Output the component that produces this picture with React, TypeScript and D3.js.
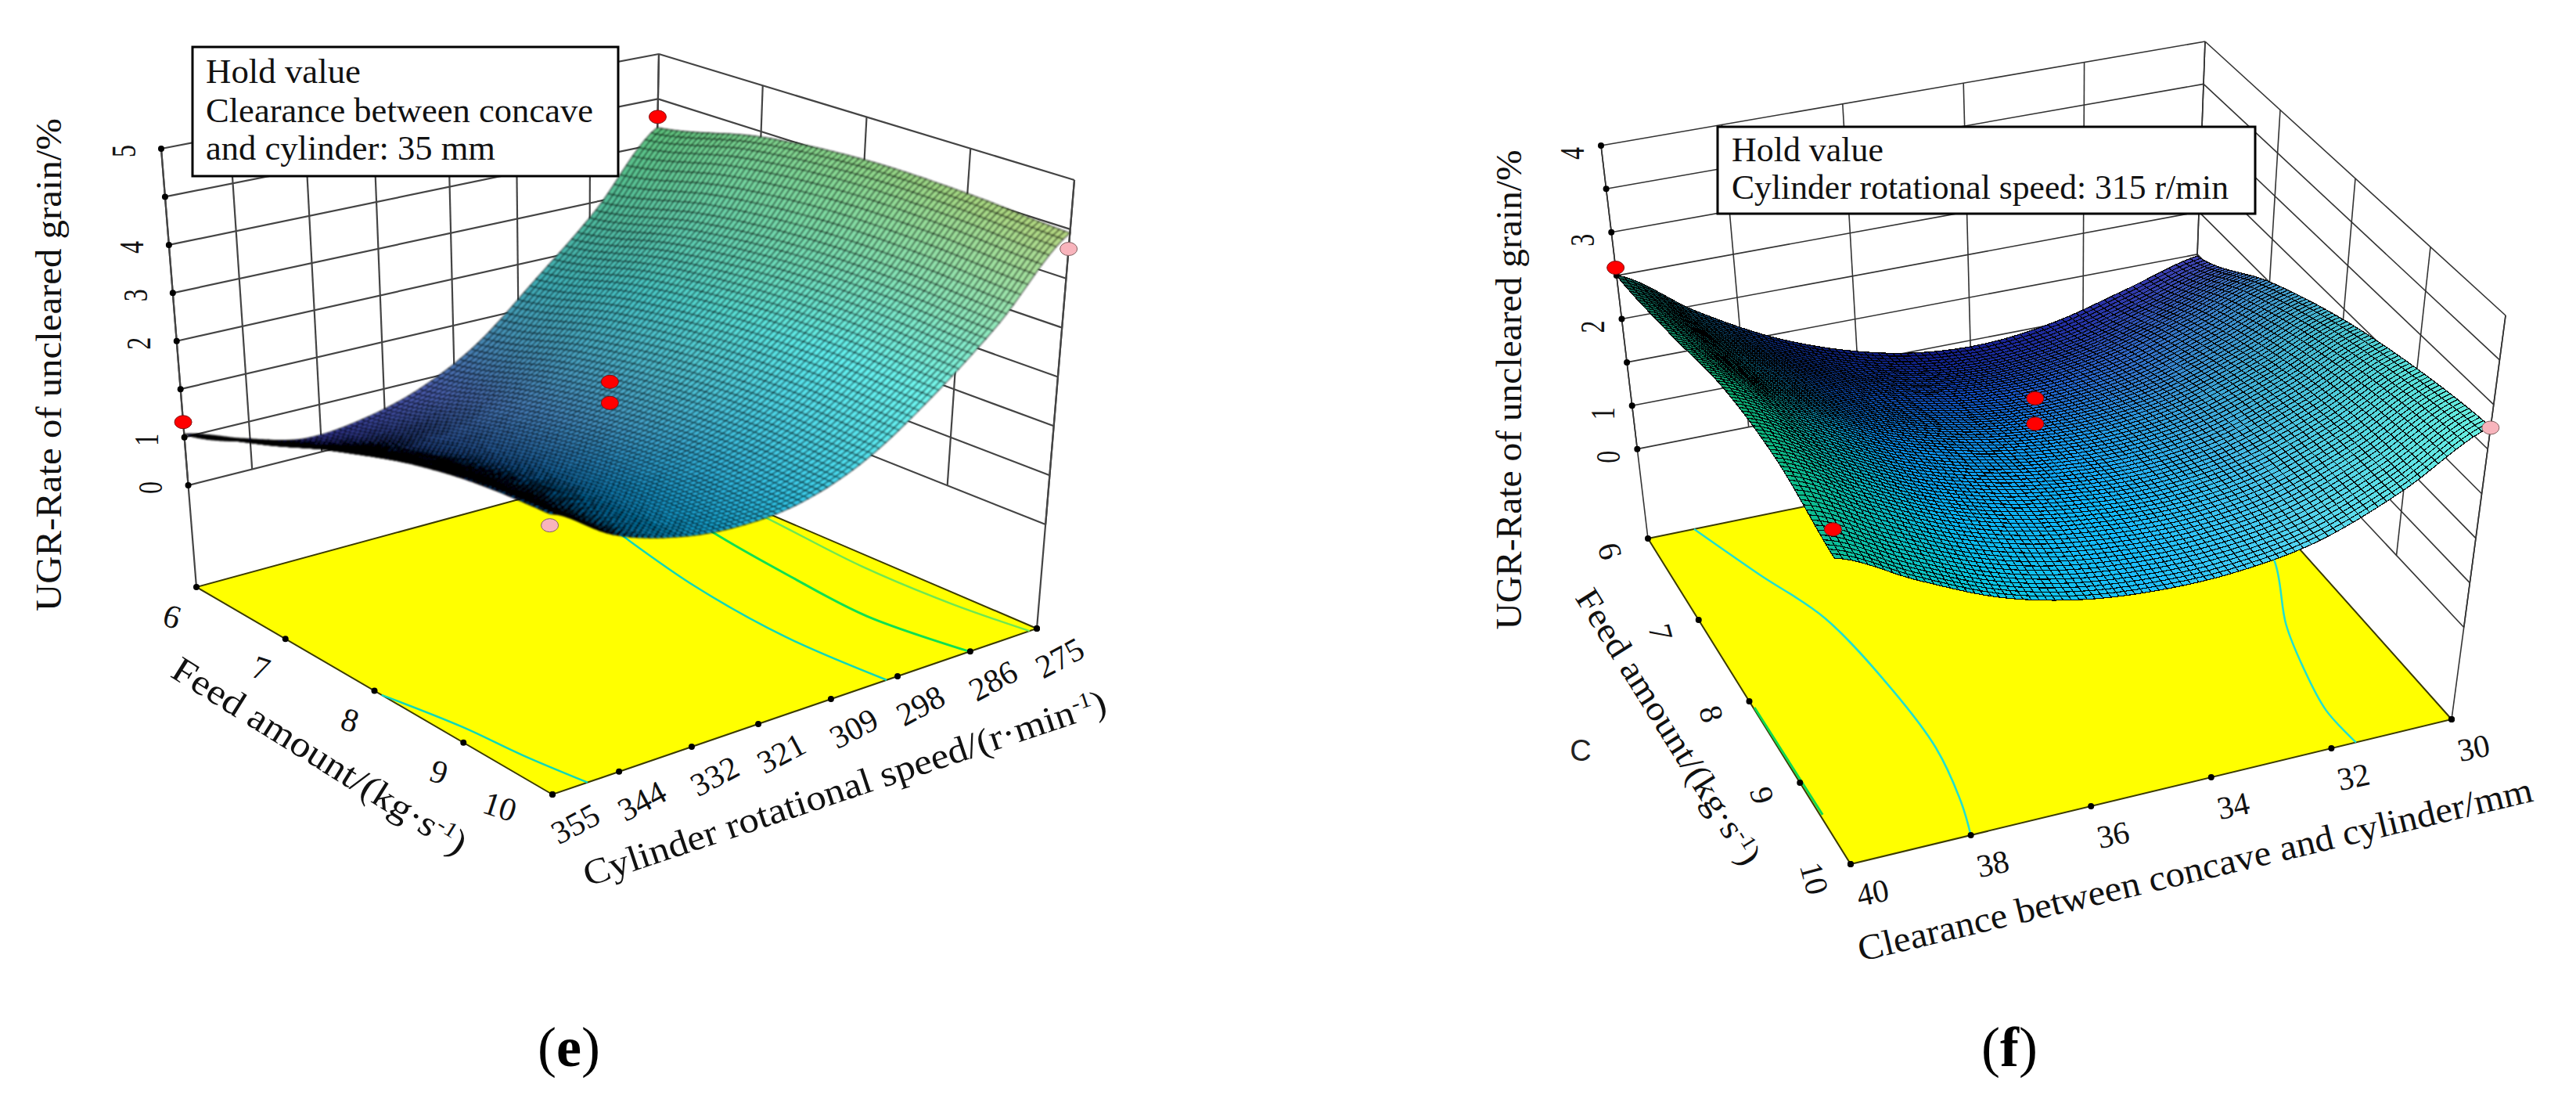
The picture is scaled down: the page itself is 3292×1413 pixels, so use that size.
import React, { useEffect, useRef } from 'react';
import * as d3 from 'd3';

// axis ticks
const cylinderTicks = [355, 344, 332, 321, 309, 298, 286, 275];
const clearanceTicks = [40, 38, 36, 34, 32, 30];
const feedTicks = [6, 7, 8, 9, 10];
const zTicksE = [0, 0.714, 1.429, 2.143, 2.857, 3.571, 4.286, 5];
const zLabelsE = ['0', '1', '', '2', '3', '4', '', '5'];
const zTicksF = [0, 0.571, 1.143, 1.714, 2.286, 2.857, 3.429, 4];
const zLabelsF = ['0', '1', '', '2', '', '3', '', '4'];

// surface readings, one row per feed amount
const cylinderGrid = [355, 345, 335, 325, 315, 305, 295, 285, 275];
const clearanceGrid = [40, 38.75, 37.5, 36.25, 35, 33.75, 32.5, 31.25, 30];
const ugrE6 = [0.76, 0.48, 0.26, 0.33, 0.58, 1.06, 1.85, 2.72, 3.83];
const ugrE7 = [1.35, 1.01, 0.78, 0.81, 1.03, 1.48, 2.24, 3.1, 4.2];
const ugrE8 = [1.87, 1.46, 1.2, 1.17, 1.33, 1.74, 2.44, 3.28, 4.35];
const ugrE9 = [2.22, 1.73, 1.44, 1.36, 1.47, 1.83, 2.48, 3.29, 4.33];
const ugrE10 = [2.35, 1.8, 1.5, 1.38, 1.45, 1.78, 2.4, 3.2, 4.23];
const ugrF6 = [2.29, 1.65, 1.13, 0.77, 0.55, 0.49, 0.6, 0.85, 1.12];
const ugrF7 = [2.55, 1.96, 1.47, 1.14, 0.96, 0.93, 1.06, 1.36, 1.72];
const ugrF8 = [2.85, 2.28, 1.79, 1.48, 1.31, 1.28, 1.41, 1.73, 2.15];
const ugrF9 = [2.88, 2.34, 1.87, 1.58, 1.44, 1.42, 1.56, 1.92, 2.42];
const ugrF10 = [2.64, 2.15, 1.72, 1.47, 1.37, 1.39, 1.56, 1.98, 2.57];

// surface colours as seen, rows go along the x axis, columns along feed
const tonesE = [
  ['#20209a', '#2030a8', '#1050c0', '#1070d0', '#1088d8'],
  ['#3a3aa8', '#3058b8', '#2070c8', '#1090d8', '#10b0e8'],
  ['#5060b8', '#5088c8', '#48a0d0', '#38b8e0', '#38d0f0'],
  ['#40b0b8', '#48c8c8', '#58e0d8', '#60f0f0', '#70f8f0'],
  ['#60c880', '#80d890', '#90d888', '#a8d880', '#b8d880'],
];
const tonesF = [
  ['#0c5a48', '#0c8a60', '#0caa68', '#0cb880', '#0cc098'],
  ['#0a2068', '#0a4098', '#0a80d8', '#0ab0f0', '#0ac8e0'],
  ['#101880', '#1050c8', '#1098f0', '#10b8ff', '#20c0ff'],
  ['#2028a0', '#3068c8', '#3aa0d8', '#48c0e8', '#58d8f0'],
  ['#4040b0', '#4090c8', '#48c0d0', '#58e0d8', '#68f0e0'],
];

// design points [x value, feed, ugr]
const redPointsE = [[275, 6, 4.0], [355, 6, 0.94], [315, 8, 1.97], [315, 8, 1.66]];
const pinkPointsE = [[275, 10, 4.0], [355, 10, 2.19]];
const redPointsF = [[40, 6, 2.39], [35, 8, 1.92], [35, 8, 1.59], [40, 10, 3.0]];
const pinkPointsF = [[30, 10, 2.56]];

// floor contours [x value, feed]
const contourE1 = [[291, 6], [295.5, 6.94], [299.2, 7.94], [300.8, 8.99], [299.8, 10]];
const contourE2 = [[280.6, 6], [285.4, 7.34], [287.2, 8.16], [288.4, 9.07], [286.1, 10]];
const contourE3 = [[275, 6.4], [276.3, 7.33], [277.9, 8.36], [277.6, 9.27], [276.2, 10]];
const contourE4 = [[355, 8.08], [352.2, 8.8], [351, 9.4], [349.2, 10]];
const contourF1 = [[39.15, 6], [38.58, 6.64], [38, 7.28], [37.71, 8.23], [37.65, 8.97], [37.82, 9.62], [38, 10]];
const contourF2 = [[30.4, 7.2], [30.52, 7.73], [31.16, 8.49], [31.44, 9.02], [31.63, 9.56], [31.59, 10]];
const contourF3 = [[39.98, 8.08], [39.96, 9.4]];

const SERIF = '"Liberation Serif", serif';
const MESH = 80;

function catmull(p: number[], t: number) {
  const n = p.length - 1;
  const s = Math.min(Math.max(t, 0), 1) * n;
  const i = Math.min(Math.floor(s), n - 1);
  const f = s - i;
  const a = p[Math.max(i - 1, 0)], b = p[i], c = p[i + 1], d = p[Math.min(i + 2, n)];
  return 0.5 * (2 * b + (c - a) * f + (2 * a - 5 * b + 4 * c - d) * f * f + (3 * b - a - 3 * c + d) * f * f * f);
}

function drawPanel(root: any, c: any) {
  const g = root.append('g');

  //Scales into the box, 0..1 on each edge
  const xs = d3.scaleLinear().domain(c.xDomain).range([0, 1]);
  const ys = d3.scaleLinear().domain([6, 10]).range([0, 1]);
  const zs = d3.scaleLinear().domain(c.zDomain).range([0, 1]);

  const bil = (q: number[][], u: number, v: number) => [0, 1].map((k) =>
    (1 - u) * (1 - v) * q[0][k] + (1 - u) * v * q[1][k] + u * v * q[2][k] + u * (1 - v) * q[3][k]);
  const projUV = (u: number, v: number, h: number) => {
    const f = bil(c.floor, u, v), t = bil(c.top, u, v);
    return [f[0] + (t[0] - f[0]) * h, f[1] + (t[1] - f[1]) * h];
  };
  const proj = (x: number, y: number, z: number) => projUV(xs(x), ys(y), zs(z));
  const line = d3.line();

  //Walls
  const wall = g.append('g').attr('fill', 'none').attr('stroke', c.wallColor).attr('stroke-width', c.wallWidth);
  const z0 = c.zTicks[0], zT = c.zTicks[c.zTicks.length - 1];
  c.zTicks.forEach((z: number) => {
    wall.append('path').attr('d', line([proj(c.xDomain[0], 6, z), proj(c.xDomain[1], 6, z)]));
    wall.append('path').attr('d', line([proj(c.xDomain[1], 6, z), proj(c.xDomain[1], 10, z)]));
  });
  c.xTicks.forEach((x: number) => {
    wall.append('path').attr('d', line([proj(x, 6, z0), proj(x, 6, zT)]));
  });
  feedTicks.forEach((y) => {
    wall.append('path').attr('d', line([proj(c.xDomain[1], y, z0), proj(c.xDomain[1], y, zT)]));
  });
  // the two long uprights reach the floor
  wall.append('path').attr('d', line([proj(c.xDomain[0], 6, c.zDomain[0]), proj(c.xDomain[0], 6, zT)]));
  wall.append('path').attr('d', line([proj(c.xDomain[1], 10, c.zDomain[0]), proj(c.xDomain[1], 10, zT)]));

  //Floor
  g.append('path')
    .attr('d', line([0, 1, 2, 3, 0].map((i) => c.floor[i] as [number, number])))
    .attr('fill', '#ffff00')
    .attr('stroke', '#3a3a00')
    .attr('stroke-width', 2);
  c.contours.forEach((ct: any) => {
    g.append('path')
      .attr('d', d3.line().curve(d3.curveCatmullRom)(ct.points.map((p: number[]) => proj(p[0], p[1], c.zDomain[0]))))
      .attr('fill', 'none')
      .attr('stroke', ct.color)
      .attr('stroke-width', ct.width);
  });

  //Surface, far cells first
  const surf = g.append('g').attr('stroke', '#000').attr('stroke-width', c.meshWidth).attr('stroke-linejoin', 'round');
  if (c.blur) surf.attr('filter', `url(#${c.blur})`);
  if (c.crisp) surf.attr('shape-rendering', 'crispEdges');
  const rowCols = c.grid[0].map((_: number, i: number) => c.grid.map((r: number[]) => r[i]));
  const zAt = (u: number, v: number) => {
    const along = rowCols.map((col: number[]) => catmull(col, v));
    return catmull(along, u);
  };
  const pts: number[][][] = d3.range(MESH + 1).map((i) => d3.range(MESH + 1).map((j) =>
    projUV(i / MESH, j / MESH, zs(zAt(i / MESH, j / MESH)))));
  const tone = (u: number, v: number) => {
    const m = c.tones.length - 1, n = c.tones[0].length - 1;
    const su = Math.min(u * m, m - 1e-6), sv = Math.min(v * n, n - 1e-6);
    const i = Math.floor(su), j = Math.floor(sv);
    const a = d3.interpolateRgb(c.tones[i][j], c.tones[i][j + 1])(sv - j);
    const b = d3.interpolateRgb(c.tones[i + 1][j], c.tones[i + 1][j + 1])(sv - j);
    return d3.interpolateRgb(a, b)(su - i);
  };
  for (let i = MESH - 1; i >= 0; i--) {
    for (let j = 0; j < MESH; j++) {
      surf.append('path')
        .attr('d', line([pts[i][j], pts[i + 1][j], pts[i + 1][j + 1], pts[i][j + 1]] as any) + 'Z')
        .attr('fill', tone((i + 0.5) / MESH, (j + 0.5) / MESH));
    }
  }

  //Tick dots
  const dot = (p: number[], r = 4) => g.append('circle').attr('cx', p[0]).attr('cy', p[1]).attr('r', r).attr('fill', '#000');
  c.zTicks.forEach((z: number) => dot(proj(c.xDomain[0], 6, z)));
  c.xTicks.forEach((x: number) => dot(proj(x, 10, c.zDomain[0])));
  feedTicks.forEach((y) => dot(proj(c.xDomain[0], y, c.zDomain[0])));
  dot(proj(c.xDomain[1], 10, c.zDomain[0]));

  //Design points
  const marker = (pt: number[], fill: string, stroke: string) => {
    const p = proj(pt[0], pt[1], pt[2]);
    g.append('ellipse').attr('cx', p[0]).attr('cy', p[1]).attr('rx', 11).attr('ry', 8.5)
      .attr('fill', fill).attr('stroke', stroke).attr('stroke-width', 1);
  };
  c.red.forEach((p: number[]) => marker(p, '#ff0000', '#801010'));
  c.pink.forEach((p: number[]) => marker(p, '#f8b4bc', '#806060'));

  //Text
  const label = (t: string, x: number, y: number, rot: number, size: number, extra = '') => g.append('text')
    .attr('transform', `translate(${x},${y}) rotate(${rot})${extra}`)
    .attr('text-anchor', 'middle')
    .attr('dy', '0.35em')
    .attr('font-family', SERIF)
    .attr('font-size', size)
    .attr('fill', '#111')
    .text(t);

  c.zTicks.forEach((z: number, i: number) => {
    if (!c.zLabels[i]) return;
    const p = proj(c.xDomain[0], 6, z);
    label(c.zLabels[i], p[0] + c.zLabelOffset[0], p[1] + c.zLabelOffset[1], -90, 32, ' scale(1,1.4)');
  });
  c.xTicks.forEach((x: number) => {
    const p = proj(x, 10, c.zDomain[0]);
    label(String(x), p[0] + c.xLabelOffset[0], p[1] + c.xLabelOffset[1], c.xLabelRot, c.tickSize);
  });
  feedTicks.forEach((y) => {
    const p = proj(c.xDomain[0], y, c.zDomain[0]);
    const off = y === 10 ? c.feedLastOffset : c.feedLabelOffset;
    label(String(y), p[0] + off[0], p[1] + off[1], c.feedLabelRot, c.tickSize);
  });

  const zt = label(c.zTitle, c.zTitlePos[0], c.zTitlePos[1], -90, 46);
  zt.attr('textLength', c.zTitleLen).attr('lengthAdjust', 'spacingAndGlyphs');

  c.titles.forEach((t: any) => {
    const el = label('', t.x, t.y, t.rot, t.size);
    el.attr('textLength', t.len).attr('lengthAdjust', 'spacingAndGlyphs');
    el.append('tspan').text(t.main);
    if (t.sup) {
      el.append('tspan').attr('font-size', t.size * 0.6).attr('dy', -t.size * 0.33).text(t.sup);
      el.append('tspan').attr('dy', t.size * 0.33).text(t.end);
    }
  });

  //Hold value box
  const b = c.box;
  g.append('rect').attr('x', b.x).attr('y', b.y).attr('width', b.w).attr('height', b.h)
    .attr('fill', '#fff').attr('stroke', '#000').attr('stroke-width', 3);
  b.lines.forEach((l: any) => {
    g.append('text').attr('x', b.x + b.pad).attr('y', l.y)
      .attr('font-family', SERIF).attr('font-size', b.size).attr('fill', '#111')
      .attr('textLength', l.len).attr('lengthAdjust', 'spacingAndGlyphs')
      .text(l.t);
  });

  //Caption
  const cap = g.append('text').attr('x', c.caption.x).attr('y', c.caption.y)
    .attr('text-anchor', 'middle').attr('font-family', SERIF).attr('font-size', 72).attr('fill', '#000');
  cap.append('tspan').text('(');
  cap.append('tspan').attr('font-weight', 'bold').text(c.caption.t);
  cap.append('tspan').text(')');
}

function App() {
  const ref = useRef<SVGSVGElement>(null);

  useEffect(() => {
    const svg = d3.select(ref.current);
    svg.selectAll('*').remove();
    svg.append('defs').append('filter').attr('id', 'soft')
      .append('feGaussianBlur').attr('stdDeviation', 0.8);

    drawPanel(svg, {
      xDomain: [355, 275],
      zDomain: [-1.51, 5],
      xTicks: cylinderTicks,
      zTicks: zTicksE,
      zLabels: zLabelsE,
      grid: [ugrE6, ugrE7, ugrE8, ugrE9, ugrE10].map((r) => cylinderGrid.map((_, i) => r[i])),
      tones: tonesE,
      floor: [[251, 750], [706, 1015], [1325, 803], [832, 592]],
      top: [[206, 190], [700, 410], [1373, 230], [842, 69]],
      wallColor: '#444',
      wallWidth: 2.2,
      meshWidth: 1.25,
      blur: 'soft',
      contours: [
        { points: contourE1, color: '#10d8b8', width: 2.5 },
        { points: contourE2, color: '#10e050', width: 3 },
        { points: contourE3, color: '#70e850', width: 2.5 },
        { points: contourE4, color: '#10d8b8', width: 2.5 },
      ],
      red: redPointsE,
      pink: pinkPointsE,
      tickSize: 42,
      zLabelOffset: [-49, 3],
      xLabelOffset: [29, 37],
      xLabelRot: -28,
      feedLabelOffset: [-31, 37],
      feedLastOffset: [-67, 15],
      feedLabelRot: 18,
      zTitle: 'UGR-Rate of uncleared grain/%',
      zTitlePos: [62, 466],
      zTitleLen: 630,
      titles: [
        { main: 'Feed amount/(kg·s', sup: '-1', end: ')', x: 409, y: 965, rot: 32, size: 46, len: 435 },
        { main: 'Cylinder rotational speed/(r·min', sup: '-1', end: ')', x: 1079, y: 1006, rot: -18.5, size: 46, len: 702 },
      ],
      box: {
        x: 246, y: 60, w: 544, h: 165, pad: 17, size: 45,
        lines: [
          { t: 'Hold value', y: 106, len: 198 },
          { t: 'Clearance between concave', y: 156, len: 495 },
          { t: 'and cylinder: 35 mm', y: 204, len: 370 },
        ],
      },
      caption: { t: 'e', x: 727, y: 1362 },
    });

    drawPanel(svg, {
      xDomain: [40, 30],
      zDomain: [-1.18, 4],
      xTicks: clearanceTicks,
      zTicks: zTicksF,
      zLabels: zLabelsF,
      grid: [ugrF6, ugrF7, ugrF8, ugrF9, ugrF10].map((r) => clearanceGrid.map((_, i) => r[i])),
      tones: tonesF,
      floor: [[2106, 688], [2365, 1104], [3133, 919], [2800, 546]],
      top: [[2046, 186], [2337, 574], [3202, 403], [2818, 53]],
      wallColor: '#333',
      wallWidth: 1.6,
      meshWidth: 1.2,
      crisp: true,
      contours: [
        { points: contourF1, color: '#20e0d0', width: 2.5 },
        { points: contourF2, color: '#20e0d0', width: 2.5 },
        { points: contourF3, color: '#10d850', width: 3 },
      ],
      red: redPointsF,
      pink: pinkPointsF,
      tickSize: 41,
      zLabelOffset: [-38, 10],
      xLabelOffset: [28, 36],
      xLabelRot: -12,
      feedLabelOffset: [-48, 16],
      feedLastOffset: [-46, 18],
      feedLabelRot: 75,
      zTitle: 'UGR-Rate of uncleared grain/%',
      zTitlePos: [1928, 498],
      zTitleLen: 613,
      titles: [
        { main: 'Feed amount/(kg·s', sup: '-1', end: ')', x: 2133, y: 928, rot: 58, size: 44, len: 407 },
        { main: 'Clearance between concave and cylinder/mm', x: 2805, y: 1110, rot: -13.4, size: 46, len: 885 },
      ],
      box: {
        x: 2195, y: 162, w: 687, h: 111, pad: 18, size: 44,
        lines: [
          { t: 'Hold value', y: 206, len: 194 },
          { t: 'Cylinder rotational speed: 315 r/min', y: 254, len: 635 },
        ],
      },
      caption: { t: 'f', x: 2568, y: 1362 },
    });

    // stray letter left on the source figure
    svg.append('text').attr('x', 2020).attr('y', 972).attr('text-anchor', 'middle')
      .attr('font-family', '"Liberation Sans", sans-serif').attr('font-size', 38).attr('fill', '#222').text('C');
  }, []);

  return (
    <svg ref={ref} width={3292} height={1413}
      style={{ position: 'absolute', left: 0, top: 0, background: '#fff' }} />
  );
}

export default App;
